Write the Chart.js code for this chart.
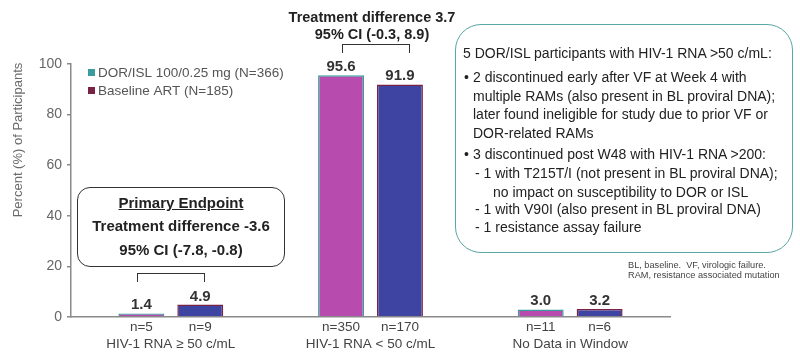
<!DOCTYPE html>
<html>
<head>
<meta charset="utf-8">
<script src="https://cdn.jsdelivr.net/npm/chart.js@4.4.1/dist/chart.umd.min.js"></script>
<style>
  html, body { margin: 0; padding: 0; background: #fff; }
  #wrap { position: relative; width: 800px; height: 357px; overflow: hidden; font-family: "Liberation Sans", Arial, sans-serif; }
  canvas { position: absolute; left: 0; top: 0; }
  .t { position: absolute; white-space: nowrap; line-height: 18px; height: 18px; }
  .c { text-align: center; width: 400px; }
  .b { font-weight: bold; color: #222; }
  .box { position: absolute; box-sizing: border-box; }
  .br { position: absolute; box-sizing: border-box; border: 1.5px solid #333; border-bottom: none; }
  .r { font-size: 14px; color: #222; }
  .fn { font-size: 9.2px; color: #444; line-height: 10px; height: 10px; }
</style>
</head>
<body>
<div id="wrap">
  <canvas id="c" width="800" height="357"></canvas>

  <!-- Top annotation -->
  <div class="t c b" style="left:172px; top:8px; font-size:14.5px;">Treatment difference 3.7</div>
  <div class="t c b" style="left:172px; top:25px; font-size:14.5px;">95% CI (-0.3, 8.9)</div>
  <div class="br" style="left:342px; top:44px; width:68px; height:9px;"></div>

  <!-- Primary endpoint box -->
  <div class="box" style="left:77px; top:187px; width:208px; height:80px; border:1.5px solid #333; border-radius:13px;"></div>
  <div class="t c b" style="left:-19px; top:194px; font-size:15px; text-decoration:underline;">Primary Endpoint</div>
  <div class="t c b" style="left:-19px; top:217px; font-size:15px;">Treatment difference -3.6</div>
  <div class="t c b" style="left:-19px; top:241px; font-size:15px;">95% CI (-7.8, -0.8)</div>
  <div class="br" style="left:137px; top:273px; width:68px; height:9px;"></div>

  <!-- Right notes box -->
  <div class="box" style="left:455px; top:24px; width:338px; height:229px; border:1.5px solid #5aa5a5; border-radius:26px;"></div>
  <div class="t r" style="left:463px; top:44px;">5 DOR/ISL participants with HIV-1 RNA &gt;50 c/mL:</div>
  <div class="t r" style="left:464px; top:68px;">•</div>
  <div class="t r" style="left:473px; top:68px;">2 discontinued early after VF at Week 4 with</div>
  <div class="t r" style="left:473px; top:87px;">multiple RAMs (also present in BL proviral DNA);</div>
  <div class="t r" style="left:473px; top:105px;">later found ineligible for study due to prior VF or</div>
  <div class="t r" style="left:473px; top:124px;">DOR-related RAMs</div>
  <div class="t r" style="left:464px; top:145px;">•</div>
  <div class="t r" style="left:473px; top:145px;">3 discontinued post W48 with HIV-1 RNA &gt;200:</div>
  <div class="t r" style="left:475px; top:164px;">- 1 with T215T/I (not present in BL proviral DNA);</div>
  <div class="t r" style="left:493px; top:183px;">no impact on susceptibility to DOR or ISL</div>
  <div class="t r" style="left:475px; top:200px;">- 1 with V90I (also present in BL proviral DNA)</div>
  <div class="t r" style="left:475px; top:218px;">- 1 resistance assay failure</div>

  <!-- Footnote -->
  <div class="t fn" style="left:628px; top:260px;">BL, baseline.&nbsp; VF, virologic failure.</div>
  <div class="t fn" style="left:628px; top:270px;">RAM, resistance associated mutation</div>
</div>

<script>
// ---- Data ----
const categories = ['HIV-1 RNA \u2265 50 c/mL', 'HIV-1 RNA < 50 c/mL', 'No Data in Window'];
const seriesNames = ['DOR/ISL 100/0.25 mg (N=366)', 'Baseline ART (N=185)'];
const dorIslValues = [1.4, 95.6, 3.0];
const baselineArtValues = [4.9, 91.9, 3.2];
const dorIslCounts = ['n=5', 'n=350', 'n=11'];
const baselineArtCounts = ['n=9', 'n=170', 'n=6'];
const yTickValues = [0, 20, 40, 60, 80, 100];
const yAxisTitle = 'Percent (%) of Participants';

const countLabels = [dorIslCounts, baselineArtCounts];
const FONT = '"Liberation Sans", Arial, sans-serif';

const extrasPlugin = {
  id: 'extras',
  afterDatasetsDraw(chart) {
    const ctx = chart.ctx;
    const area = chart.chartArea;
    ctx.save();
    // value labels and n= labels
    chart.data.datasets.forEach((ds, i) => {
      const meta = chart.getDatasetMeta(i);
      meta.data.forEach((bar, j) => {
        ctx.font = 'bold 15px ' + FONT;
        ctx.fillStyle = '#333';
        ctx.textAlign = 'center';
        ctx.textBaseline = 'alphabetic';
        ctx.fillText(ds.data[j].toFixed(1), bar.x, bar.y - 4);
        ctx.font = '13.5px ' + FONT;
        ctx.fillStyle = '#444';
        ctx.textBaseline = 'middle';
        ctx.fillText(countLabels[i][j], bar.x, area.bottom + 10);
      });
    });
    // legend
    chart.data.datasets.forEach((ds, i) => {
      const y = 72.5 + i * 18;
      ctx.fillStyle = ds.borderColor;
      ctx.fillRect(88, y - 3.5, 7, 7);
      ctx.font = '13.5px ' + FONT;
      ctx.fillStyle = '#555';
      ctx.textAlign = 'left';
      ctx.textBaseline = 'middle';
      ctx.fillText(ds.label, 98, y + 0.5);
    });
    // y axis title
    ctx.translate(18, 140);
    ctx.rotate(-Math.PI / 2);
    ctx.font = '13px ' + FONT;
    ctx.fillStyle = '#6b6b6b';
    ctx.textAlign = 'center';
    ctx.textBaseline = 'middle';
    ctx.fillText(yAxisTitle, 0, 0);
    ctx.restore();
  }
};

new Chart(document.getElementById('c'), {
  type: 'bar',
  data: {
    labels: categories,
    datasets: [
      { label: seriesNames[0], data: dorIslValues, backgroundColor: '#B84BAE', borderColor: '#3C9C9C', borderWidth: 1.5, categoryPercentage: 0.59, barPercentage: 0.78 },
      { label: seriesNames[1], data: baselineArtValues, backgroundColor: '#3E44A1', borderColor: '#7A2245', borderWidth: 1.5, categoryPercentage: 0.59, barPercentage: 0.78 }
    ]
  },
  options: {
    responsive: false,
    animation: false,
    layout: { padding: { left: 0, right: 130, top: 64, bottom: 0 } },
    plugins: { legend: { display: false }, tooltip: { enabled: false } },
    scales: {
      x: {
        grid: { display: false, drawTicks: false },
        border: { display: true, color: '#8a8a8a', width: 1.5 },
        ticks: { color: '#444', font: { family: FONT, size: 13.5 }, padding: 19, maxRotation: 0, autoSkip: false },
        afterFit: s => { s.height = 40; }
      },
      y: {
        min: 0, max: 100,
        afterBuildTicks: s => { s.ticks = yTickValues.map(v => ({ value: v })); },
        grid: { display: true, drawOnChartArea: false, drawTicks: true, tickLength: 4, color: '#8a8a8a', lineWidth: 1.5 },
        border: { display: true, color: '#8a8a8a', width: 1.5 },
        ticks: { color: '#666', font: { family: FONT, size: 14 }, padding: 5 },
        afterFit: s => { s.width = 71; }
      }
    }
  },
  plugins: [extrasPlugin]
});
</script>
</body>
</html>
